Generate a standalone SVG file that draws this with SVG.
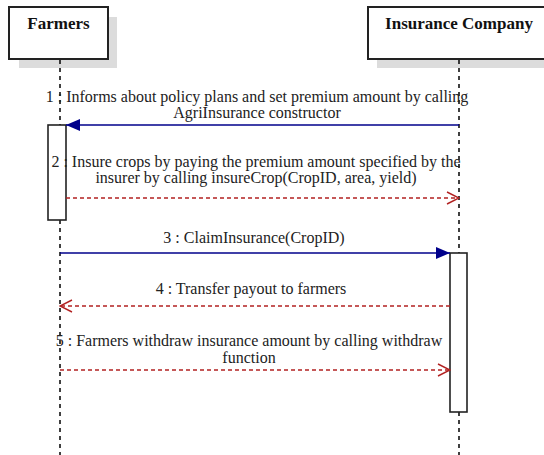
<svg xmlns="http://www.w3.org/2000/svg" width="544" height="455" viewBox="0 0 544 455">
<style>
.t{font-family:'Liberation Serif','DejaVu Serif',serif;font-size:16px;fill:#222;text-anchor:middle}
.h{font-family:'Liberation Serif','DejaVu Serif',serif;font-size:17px;font-weight:bold;fill:#111;text-anchor:middle}
.box{fill:#fff;stroke:#222;stroke-width:2}
.sh{fill:#dcdcdc}
.life{stroke:#111;stroke-width:1.6;stroke-dasharray:4,4;fill:none}
.sync{stroke:#00008b;stroke-width:1.6;fill:none}
.ret{stroke:#b22222;stroke-width:1.4;stroke-dasharray:4,3;fill:none}
.act{fill:#fff;stroke:#222;stroke-width:1.6}
</style>
<defs>
<marker id="fill" markerWidth="14" markerHeight="12" refX="14" refY="6" orient="auto" markerUnits="userSpaceOnUse">
<path d="M0,0 L14,6 L0,12 Z" fill="#00008b"/>
</marker>
<marker id="open" markerWidth="14" markerHeight="14" refX="13" refY="7" orient="auto" markerUnits="userSpaceOnUse">
<path d="M1,1 L13,7 L1,13" fill="none" stroke="#b22222" stroke-width="1.4"/>
</marker>
</defs>
<rect width="544" height="455" fill="#fff"/>
<g id="farmers">
<rect class="sh" x="19" y="17" width="98" height="51"/>
<rect class="box" x="9" y="7" width="99" height="52"/>
<text class="h" x="58.5" y="29">Farmers</text>
</g>
<g id="insurance-company">
<rect class="sh" x="377" y="17" width="170" height="51"/>
<rect class="box" x="368" y="7" width="180" height="52"/>
<text class="h" x="459" y="29">Insurance Company</text>
</g>
<g id="lifelines">
<line class="life" x1="60" y1="60" x2="60" y2="455"/>
<line class="life" x1="459" y1="60" x2="459" y2="455"/>
</g>
<g id="farmers-activation">
<rect class="act" x="48" y="125" width="18" height="95"/>
</g>
<g id="insurance-activation">
<rect class="act" x="450" y="253" width="17" height="159"/>
</g>
<g id="connectors">
<line class="sync" x1="459" y1="125" x2="66" y2="125" marker-end="url(#fill)"/>
<line class="ret" x1="66" y1="198" x2="459" y2="198" marker-end="url(#open)"/>
<line class="sync" x1="60" y1="253" x2="450" y2="253" marker-end="url(#fill)"/>
<line class="ret" x1="450" y1="306" x2="60" y2="306" marker-end="url(#open)"/>
<line class="ret" x1="60" y1="370" x2="450" y2="370" marker-end="url(#open)"/>
</g>
<g id="labels">
<text class="t" x="257" y="102">1 : Informs about policy plans and set premium amount by calling</text>
<text class="t" x="257" y="118">AgriInsurance constructor</text>
<text class="t" x="256" y="167">2 : Insure crops by paying the premium amount specified by the</text>
<text class="t" x="256" y="183">insurer by calling insureCrop(CropID, area, yield)</text>
<text class="t" x="254" y="243">3 : ClaimInsurance(CropID)</text>
<text class="t" x="251" y="294">4 : Transfer payout to farmers</text>
<text class="t" x="249" y="346">5 : Farmers withdraw insurance amount by calling withdraw</text>
<text class="t" x="249" y="363">function</text>
</g>
</svg>
